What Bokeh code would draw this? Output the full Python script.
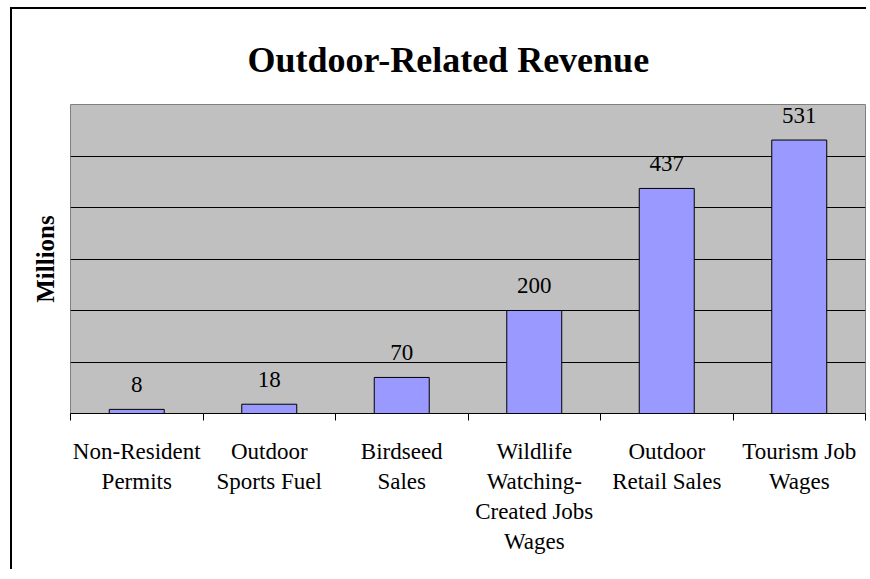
from bokeh.plotting import figure
from bokeh.layouts import column
from bokeh.models import FixedTicker, ColumnDataSource, Range1d
from bokeh.core.properties import value
from bokeh.embed import file_html
from bokeh.resources import INLINE

categories = ["Non-Resident\nPermits", "Outdoor\nSports Fuel", "Birdseed\nSales",
              "Wildlife\nWatching-\nCreated Jobs\nWages", "Outdoor\nRetail Sales",
              "Tourism Job\nWages"]
values = [8, 18, 70, 200, 437, 531]
value_labels = ["8", "18", "70", "200", "437", "531"]
grid_ticks = [100, 200, 300, 400, 500]
y_max = 600

centers = [i + 0.5 for i in range(len(categories))]
bounds = list(range(len(categories) + 1))

src = ColumnDataSource(dict(x=centers, top=values, lab=value_labels))

SERIF = "Liberation Serif"

p = figure(width=856, height=562, output_backend="svg", toolbar_location=None,
           x_range=Range1d(0, len(categories)), y_range=Range1d(0, y_max),
           min_border_left=58, min_border_right=3, min_border_top=95, min_border_bottom=158,
           title="Outdoor-Related Revenue")
p.styles = {"border-left": "2px solid black", "border-top": "2px solid black"}

p.title.align = "left"
p.title.text_font = SERIF
p.title.text_font_size = "36px"
p.title.text_font_style = "bold"
p.title.text_color = "black"
p.title.offset = 177
p.title.standoff = 49

p.background_fill_color = "#C0C0C0"
p.border_fill_color = "white"
p.outline_line_color = "#808080"
p.outline_line_width = 1

p.vbar(x="x", top="top", width=0.415, bottom=0, source=src,
       fill_color="#9999FF", line_color="black", line_width=1)

p.text(x="x", y="top", text="lab", source=src, text_align="center",
       text_baseline="alphabetic", y_offset=-25, text_font=value(SERIF),
       text_font_size="23px", text_color="black")

# x axis
xa = p.xaxis[0]
xa.ticker = FixedTicker(ticks=centers, minor_ticks=bounds)
xa.major_label_overrides = {c: t for c, t in zip(centers, categories)}
xa.major_tick_line_color = None
xa.major_tick_out = 0
xa.major_tick_in = 0
xa.minor_tick_out = 7
xa.minor_tick_in = 0
xa.minor_tick_line_color = "black"
xa.axis_line_color = "black"
xa.major_label_text_font = SERIF
xa.major_label_text_font_size = "23px"
xa.major_label_text_color = "black"
xa.major_label_standoff = 18

# y axis
ya = p.yaxis[0]
ya.ticker = FixedTicker(ticks=[])
ya.axis_line_color = None
ya.major_tick_line_color = None
ya.minor_tick_line_color = None
ya.axis_label = "Millions"
ya.axis_label_text_font = SERIF
ya.axis_label_text_font_size = "25px"
ya.axis_label_text_font_style = "bold"
ya.axis_label_text_color = "black"
ya.axis_label_standoff = 12

p.xgrid.visible = False
p.ygrid.ticker = FixedTicker(ticks=grid_ticks)
p.ygrid.grid_line_color = "black"
p.ygrid.grid_line_alpha = 1
p.ygrid.grid_line_width = 1

layout = column(p, styles={"padding-left": "10px", "padding-top": "7px",
                           "background-color": "white"})

open("out.html", "w").write(file_html(layout, INLINE))
